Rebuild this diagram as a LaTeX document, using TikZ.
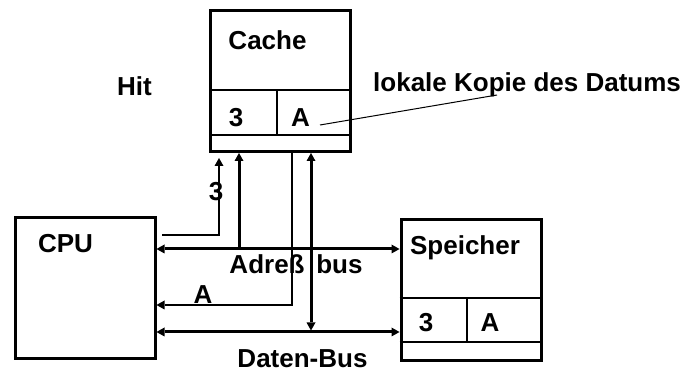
\documentclass[tikz,border=0pt]{standalone}
\usepackage{fontspec}
\setmainfont{Liberation Sans}
\usetikzlibrary{arrows.meta,positioning,calc}
\tikzset{
  unit/.style={draw,line width=3pt,minimum width=140pt,minimum height=141pt,inner sep=0pt},
  cell/.style={line width=1.4pt},
  lbl/.style={inner sep=0pt,anchor=base,font=\fontsize{26}{31}\selectfont\bfseries},
  bus/.style={line width=3pt},
  wire/.style={line width=1.4pt},
  tip/.tip={Triangle[length=8pt,width=9pt,line width=0pt]},
}
\begin{document}
\begin{tikzpicture}[x=1pt,y=-1pt]
  \useasboundingbox (0,0) rectangle (697,374);
  % the three units
  \node[unit] (cache) at (280.5,81) {};
  \node[unit] (cpu) at (85,288.5) {};
  \node[unit] (mem) at (471,290) {};
  % cells inside cache and memory
  \draw[cell] (cache.west |- 0,90) -- (cache.east |- 0,90);
  \draw[cell] (cache.west |- 0,135) -- (cache.east |- 0,135);
  \draw[cell] (277,90) -- (277,135);
  \draw[cell] (mem.west |- 0,298) -- (mem.east |- 0,298);
  \draw[cell] (mem.west |- 0,342) -- (mem.east |- 0,342);
  \draw[cell] (467,298) -- (467,342);
  % texts
  \node[lbl] (cachelbl) at (267.5,50) {Cache};
  \node[lbl] (c3) at (236,127) {3};
  \node[lbl] (cA) at (300.5,127) {A};
  \node[lbl] (hit) at (134.5,96) {Hit};
  \node[lbl,anchor=base west] (kopie) at (373,92) {lokale Kopie des Datums};
  \node[lbl] (cpulbl) at (65.5,253) {CPU};
  \node[lbl] (memlbl) at (465,255) {Speicher};
  \node[lbl] (m3) at (426,332) {3};
  \node[lbl] (mA) at (490,332) {A};
  \node[lbl] (t3) at (216,201) {3};
  \node[lbl] (tA) at (203,304) {A};
  \node[lbl] (abus) at (296,274) {Adreß\hspace{.45em}bus};
  \node[lbl] (dbus) at (302.5,368) {Daten-Bus};
  % helper coordinates
  \coordinate (ab) at (0,249);
  \coordinate (db) at (0,332);
  \coordinate (ret) at (0,305);
  \coordinate (w3) at (162,235);
  \coordinate (x3) at (219,0);
  \coordinate (xa) at (239,0);
  \coordinate (xb) at (292,0);
  \coordinate (xc) at (311,0);
  \coordinate (lead) at (320,125);
  \coordinate (leadend) at (497,95);
  % buses
  \draw[bus,tip-tip] (cpu.east |- ab) -- (mem.west |- ab);
  \draw[bus,tip-tip] (cpu.east |- db) -- (mem.west |- db);
  \draw[bus,-tip] (xa |- ab) -- (xa |- cache.south);
  \draw[bus,tip-tip,shorten <=1.5pt] (xc |- db) -- (xc |- cache.south);
  % hit wires
  \draw[wire,-tip,shorten >=5pt] (w3) -| (x3 |- cache.south);
  \draw[wire,-tip] (xb |- cache.south) |- (cpu.east |- ret);
  \draw[line width=1pt] (lead) -- (leadend);
\end{tikzpicture}
\end{document}
